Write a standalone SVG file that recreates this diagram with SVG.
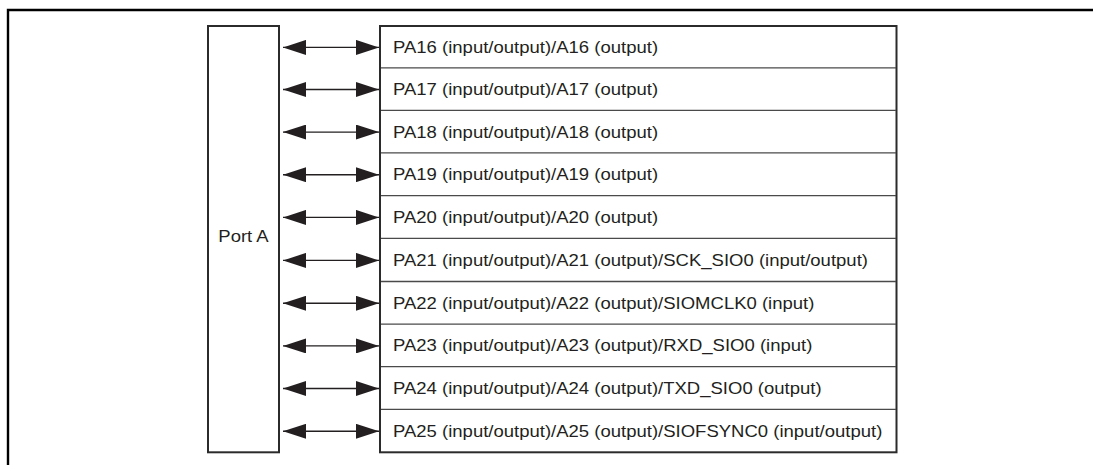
<svg xmlns="http://www.w3.org/2000/svg" width="1093" height="465" viewBox="0 0 1093 465">
<style>
.frame{fill:none;stroke:#000;stroke-width:2.4}
.box{fill:#fff;stroke:#2b2b2b;stroke-width:2}
.div{stroke:#4a4a4a;stroke-width:1.3}
.lbl{font-family:"Liberation Sans",Arial,Helvetica,sans-serif;font-size:16.6px;fill:#231f20}
.conn{stroke:#231f20;stroke-width:1.4;fill:none;marker-start:url(#ah);marker-end:url(#ah)}
</style>
<defs>
<marker id="ah" markerUnits="userSpaceOnUse" viewBox="0 0 23 15" markerWidth="23" markerHeight="15" refX="23" refY="7.5" orient="auto-start-reverse">
<path d="M0,0 L23,7.5 L0,15 z" fill="#231f20"/>
</marker>
</defs>
<rect width="1093" height="465" fill="#fff"/>
<path class="frame" d="M8,465 L8,10 L1093,10"/>
<g id="portA">
<rect class="box" x="208" y="26" width="71" height="426.3"/>
<g transform="translate(243.5,241.7) scale(1.115,1)"><text class="lbl" x="0" y="0" text-anchor="middle">Port A</text></g>
</g>
<g id="pins">
<rect class="box" x="380" y="26" width="516.5" height="426.3"/>
<g>
<line class="div" x1="381" y1="67.8" x2="896" y2="67.8"/>
<line class="div" x1="381" y1="110.3" x2="896" y2="110.3"/>
<line class="div" x1="381" y1="152.9" x2="896" y2="152.9"/>
<line class="div" x1="381" y1="195.6" x2="896" y2="195.6"/>
<line class="div" x1="381" y1="238.3" x2="896" y2="238.3"/>
<line class="div" x1="381" y1="281.5" x2="896" y2="281.5"/>
<line class="div" x1="381" y1="324.1" x2="896" y2="324.1"/>
<line class="div" x1="381" y1="366.7" x2="896" y2="366.7"/>
<line class="div" x1="381" y1="409.3" x2="896" y2="409.3"/>
</g>
<g transform="translate(393,0) scale(1.115,1)">
<text id="pa16" class="lbl" x="0" y="52.9">PA16 (input/output)/A16 (output)</text>
<text id="pa17" class="lbl" x="0" y="95.1">PA17 (input/output)/A17 (output)</text>
<text id="pa18" class="lbl" x="0" y="137.6">PA18 (input/output)/A18 (output)</text>
<text id="pa19" class="lbl" x="0" y="180.3">PA19 (input/output)/A19 (output)</text>
<text id="pa20" class="lbl" x="0" y="223">PA20 (input/output)/A20 (output)</text>
<text id="pa21" class="lbl" x="0" y="266.4">PA21 (input/output)/A21 (output)/SCK_SIO0 (input/output)</text>
<text id="pa22" class="lbl" x="0" y="308.9">PA22 (input/output)/A22 (output)/SIOMCLK0 (input)</text>
<text id="pa23" class="lbl" x="0" y="351.5">PA23 (input/output)/A23 (output)/RXD_SIO0 (input)</text>
<text id="pa24" class="lbl" x="0" y="394.1">PA24 (input/output)/A24 (output)/TXD_SIO0 (output)</text>
<text id="pa25" class="lbl" x="0" y="436.8">PA25 (input/output)/A25 (output)/SIOFSYNC0 (input/output)</text>
</g>
</g>
<g id="connectors">
<line class="conn" x1="283" y1="47.4" x2="379" y2="47.4"/>
<line class="conn" x1="283" y1="89.5" x2="379" y2="89.5"/>
<line class="conn" x1="283" y1="132.1" x2="379" y2="132.1"/>
<line class="conn" x1="283" y1="174.7" x2="379" y2="174.7"/>
<line class="conn" x1="283" y1="217.4" x2="379" y2="217.4"/>
<line class="conn" x1="283" y1="260.4" x2="379" y2="260.4"/>
<line class="conn" x1="283" y1="303.3" x2="379" y2="303.3"/>
<line class="conn" x1="283" y1="345.9" x2="379" y2="345.9"/>
<line class="conn" x1="283" y1="388.5" x2="379" y2="388.5"/>
<line class="conn" x1="283" y1="431.3" x2="379" y2="431.3"/>
</g>
</svg>
